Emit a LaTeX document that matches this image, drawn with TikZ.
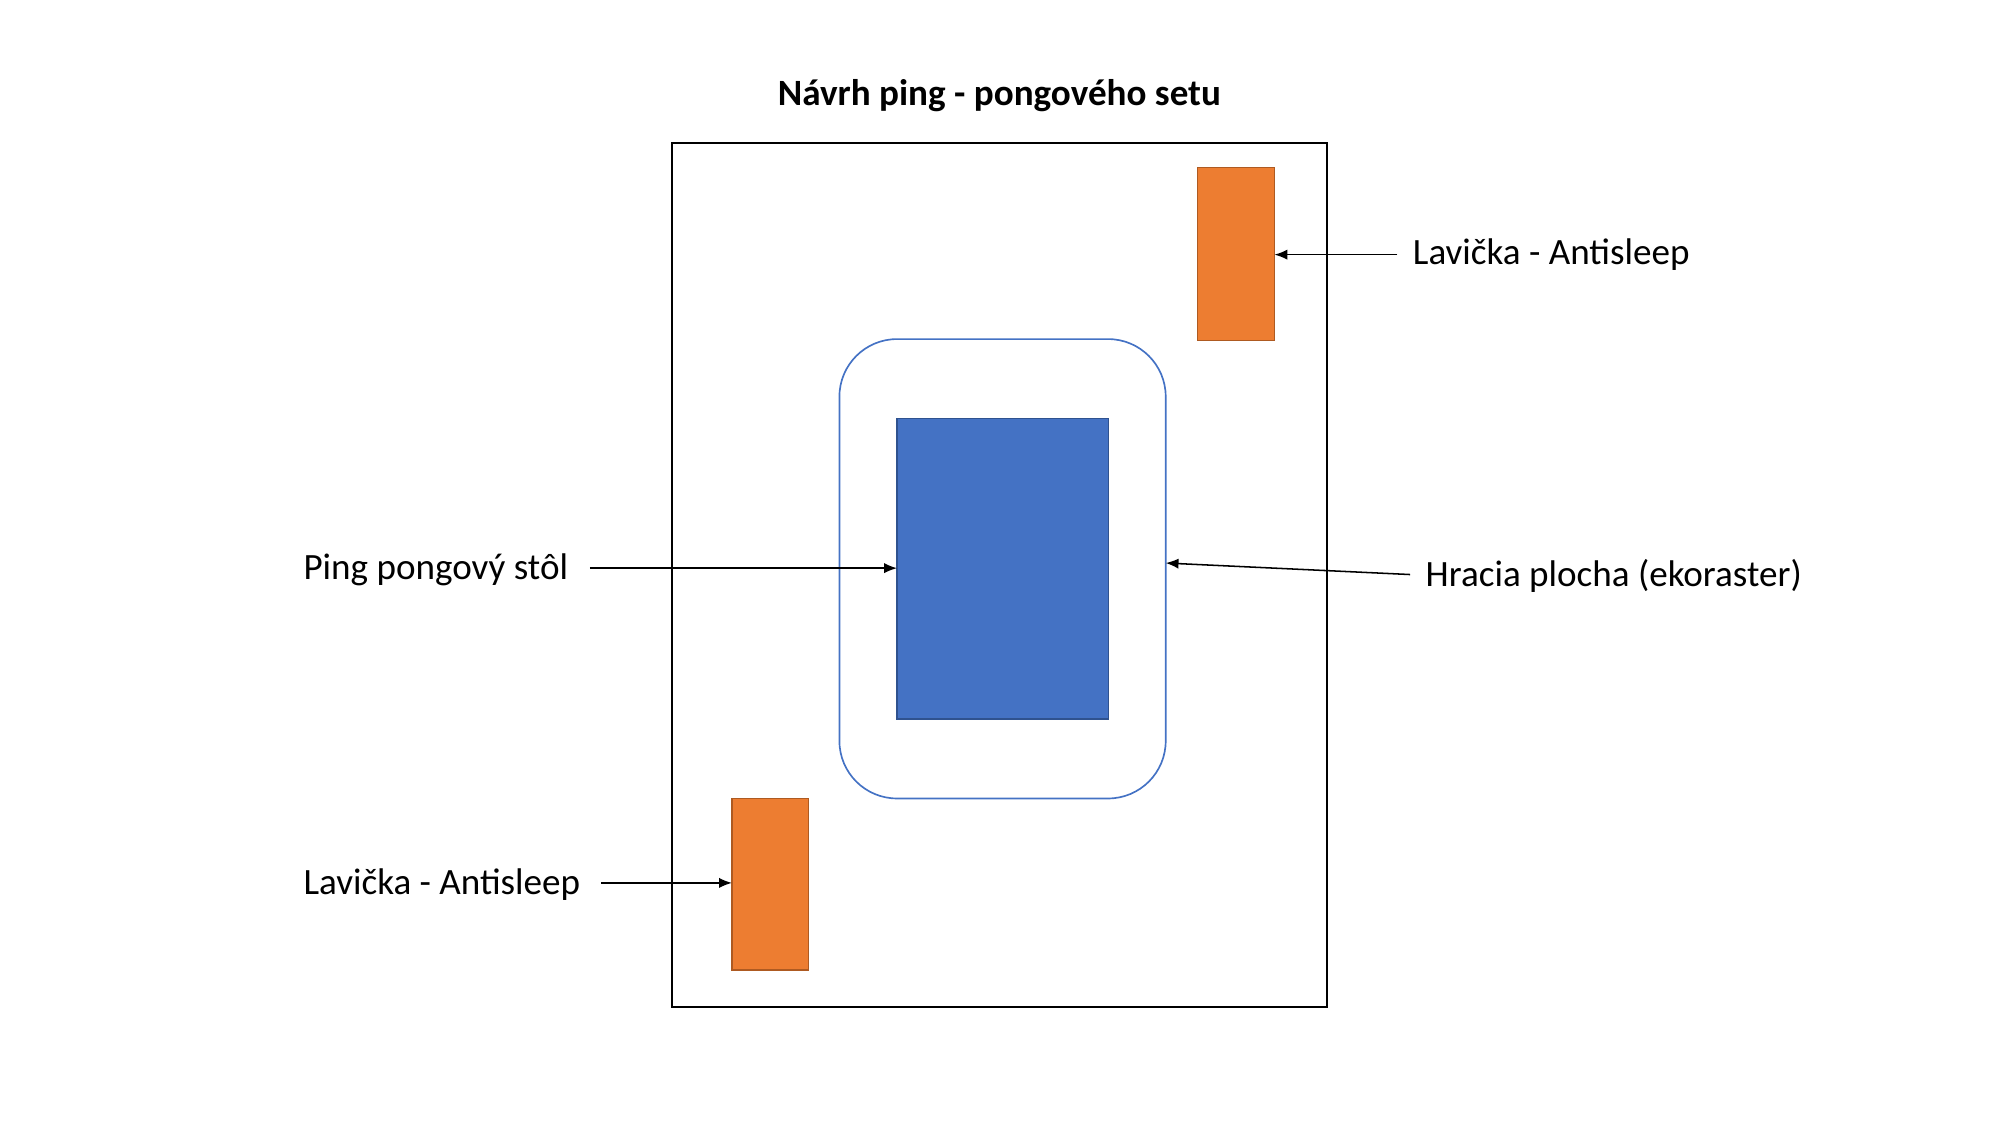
\documentclass[tikz,border=0pt]{standalone}
\usepackage{fontspec}
\setmainfont{Carlito}
\usetikzlibrary{arrows.meta}
\definecolor{orng}{HTML}{ED7D31}
\definecolor{orngd}{HTML}{AE5A21}
\definecolor{blu}{HTML}{4472C4}
\definecolor{blud}{HTML}{2F528F}
\begin{document}
\begin{tikzpicture}[x=1pt,y=-1pt,
  lbl/.style={font=\fontsize{29}{34}\selectfont,inner sep=0pt},
  arr/.style={draw,line width=1.2pt,-{Latex[length=10pt,width=8pt]}},
  bench/.style={draw=orngd,fill=orng,line width=1pt}]
\useasboundingbox (0,0) rectangle (1563,880);
\node[font=\bfseries\fontsize{29}{34}\selectfont] (title) at (781,75) {Návrh ping - pongového setu};
\draw[line width=1.3pt] (525,112) rectangle (1037,787);
\filldraw[bench] (936,131) rectangle (996,266);
\coordinate (b1e) at (996,199);
\filldraw[bench] (572,624) rectangle (632,758);
\coordinate (b2w) at (572,690);
\draw[blu,line width=1.3pt,rounded corners=45pt] (656,265) rectangle (911,624);
\coordinate (areae) at (911,440);
\filldraw[fill=blu,draw=blud,line width=1pt] (701,327) rectangle (866,562);
\coordinate (tablew) at (701,444);
\node[lbl,anchor=west] (l1) at (1104,199) {Lavička - Antisleep};
\node[lbl,anchor=west] (l2) at (237,445) {Ping pongový stôl};
\node[lbl,anchor=west] (l3) at (1114,450) {Hracia plocha (ekoraster)};
\node[lbl,anchor=west] (l4) at (237,691) {Lavička - Antisleep};
\draw[arr] (1092,199) -- (b1e);
\draw[arr] (461,444) -- (tablew);
\draw[arr] (1102,449) -- (areae);
\draw[arr] (470,690) -- (b2w);
\end{tikzpicture}
\end{document}
